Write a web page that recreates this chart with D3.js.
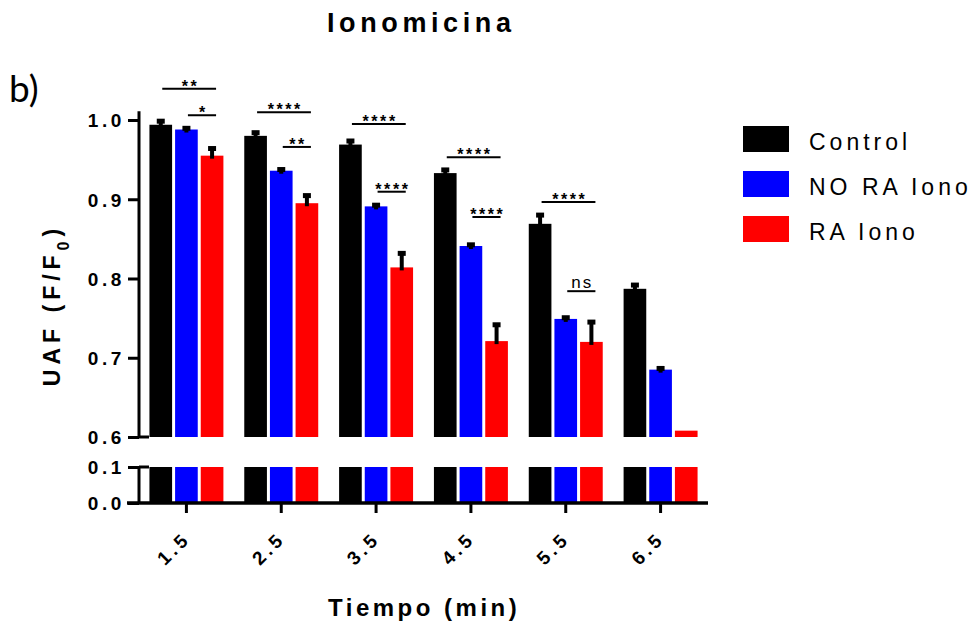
<!DOCTYPE html>
<html lang="es">
<head>
<meta charset="utf-8">
<title>Ionomicina</title>
<script src="https://cdn.jsdelivr.net/npm/d3@7"></script>
<style>
  html, body { margin: 0; padding: 0; background: #fff; }
  svg { display: block; }
  .t { font-family: 'Liberation Sans', Arial, sans-serif; fill: #000; }
  .bold { font-weight: 700; }
</style>
</head>
<body>
<script>
// data
var categories = ['1.5', '2.5', '3.5', '4.5', '5.5', '6.5'];
var seriesNames = ['Control', 'NO RA Iono', 'RA Iono'];
var controlMean = [0.994, 0.980, 0.969, 0.933, 0.869, 0.787];
var controlSem  = [0.0045, 0.004, 0.0045, 0.004, 0.011, 0.0047];
var noRaMean    = [0.988, 0.936, 0.891, 0.841, 0.749, 0.685];
var noRaSem     = [0.0015, 0.0015, 0.0015, 0.0015, 0.0015, 0.0015];
var raMean      = [0.955, 0.895, 0.814, 0.721, 0.720, 0.608];
var raSem       = [0.009, 0.0096, 0.0177, 0.0206, 0.025, 0];
var upperTicks  = [0.6, 0.7, 0.8, 0.9, 1.0];
var lowerTicks  = [0.0, 0.1];

// significance brackets (group, from series, to series, label, level)
var sigGroup = [0, 0, 1, 1, 2, 2, 3, 3, 4, 4];
var sigFrom  = [0, 1, 0, 1, 0, 1, 0, 1, 0, 1];
var sigTo    = [2, 2, 2, 2, 2, 2, 2, 2, 2, 2];
var sigLabel = ['**', '*', '****', '**', '****', '****', '****', '****', '****', 'ns'];
var sigLevel = [1.0395, 1.006, 1.0097, 0.966, 0.995, 0.9095, 0.953, 0.8776, 0.8965, 0.784];

var colors = ['#000000', '#0000ff', '#ff0000'];
var means = [controlMean, noRaMean, raMean];
var sems = [controlSem, noRaSem, raSem];

var w = 973, h = 621;
var axisX = 139;

var svg = d3.select('body').append('svg')
  .attr('width', w).attr('height', h);

var x = d3.scaleBand().domain(categories).range([axisX, 708])
  .paddingInner(0.22).paddingOuter(0.11);
var xs = d3.scaleBand().domain(seriesNames).range([0, x.bandwidth()])
  .paddingInner(0.117);
var yTop = d3.scaleLinear().domain([0.6, 1.0]).range([437, 120]);
var yLow = d3.scaleLinear().domain([0, 0.1]).range([503, 467]);

// flat table for the bars
var rows = [];
categories.forEach(function (c, i) {
  seriesNames.forEach(function (s, j) {
    rows.push({ cat: c, ser: s, j: j, v: means[j][i], e: sems[j][i] });
  });
});

function barX(d) { return x(d.cat) + xs(d.ser); }

// upper segment bars
svg.append('g').selectAll('rect').data(rows).enter().append('rect')
  .attr('x', barX)
  .attr('width', xs.bandwidth())
  .attr('y', function (d) { return yTop(Math.max(d.v, 0.6)); })
  .attr('height', function (d) { return yTop(0.6) - yTop(Math.max(d.v, 0.6)); })
  .attr('fill', function (d) { return colors[d.j]; });

// lower segment bars
svg.append('g').selectAll('rect').data(rows).enter().append('rect')
  .attr('x', barX)
  .attr('width', xs.bandwidth())
  .attr('y', function (d) { return yLow(Math.min(d.v, 0.1)); })
  .attr('height', function (d) { return yLow(0) - yLow(Math.min(d.v, 0.1)); })
  .attr('fill', function (d) { return colors[d.j]; });

// error bars (upward only, like the original)
var eb = svg.append('g').selectAll('g').data(rows.filter(function (d) { return d.e > 0; }))
  .enter().append('g');
eb.append('line')
  .attr('x1', function (d) { return barX(d) + xs.bandwidth() / 2; })
  .attr('x2', function (d) { return barX(d) + xs.bandwidth() / 2; })
  .attr('y1', function (d) { return yTop(d.v) + 3; })
  .attr('y2', function (d) { return yTop(d.v + d.e); })
  .attr('stroke', '#000').attr('stroke-width', 4);
eb.append('line')
  .attr('x1', function (d) { return barX(d) + xs.bandwidth() / 2 - 4; })
  .attr('x2', function (d) { return barX(d) + xs.bandwidth() / 2 + 4; })
  .attr('y1', function (d) { return yTop(d.v + d.e); })
  .attr('y2', function (d) { return yTop(d.v + d.e); })
  .attr('stroke', '#000').attr('stroke-width', 5);

// y axis ticks, upper and lower part
function styleY(g) {
  g.attr('font-size', null).attr('font-family', null);
  g.select('.domain').remove();
  g.selectAll('.tick line').attr('stroke', '#000').attr('stroke-width', 3);
  g.selectAll('.tick text')
    .attr('class', 't bold')
    .style('font-size', '19px')
    .style('letter-spacing', '3.6px')
    .attr('x', -14)
    .attr('dy', '0.36em');
}
var yAxTop = d3.axisLeft(yTop).tickValues(upperTicks)
  .tickFormat(d3.format('.1f')).tickSize(11).tickSizeOuter(0);
svg.append('g').attr('transform', 'translate(' + axisX + ',0)').call(yAxTop).call(styleY);
var yAxLow = d3.axisLeft(yLow).tickValues(lowerTicks)
  .tickFormat(d3.format('.1f')).tickSize(11).tickSizeOuter(0);
svg.append('g').attr('transform', 'translate(' + axisX + ',0)').call(yAxLow).call(styleY);

// axis lines with the break
svg.append('line').attr('x1', axisX).attr('x2', axisX)
  .attr('y1', yTop(1.011)).attr('y2', yTop(0.6))
  .attr('stroke', '#000').attr('stroke-width', 3);
svg.append('line').attr('x1', axisX).attr('x2', axisX)
  .attr('y1', yLow(0.1)).attr('y2', yLow(0))
  .attr('stroke', '#000').attr('stroke-width', 3);
svg.append('line').attr('x1', axisX).attr('x2', axisX + 10)
  .attr('y1', yTop(0.6)).attr('y2', yTop(0.6))
  .attr('stroke', '#000').attr('stroke-width', 3);
svg.append('line').attr('x1', axisX).attr('x2', axisX + 10)
  .attr('y1', yLow(0.1)).attr('y2', yLow(0.1))
  .attr('stroke', '#000').attr('stroke-width', 3);

// x axis
var xAx = d3.axisBottom(x).tickSize(10).tickSizeOuter(0);
var gx = svg.append('g').attr('transform', 'translate(0,' + yLow(0) + ')').call(xAx);
gx.attr('font-size', null).attr('font-family', null);
gx.select('.domain').remove();
gx.selectAll('.tick line').attr('stroke', '#000').attr('stroke-width', 3);
gx.selectAll('.tick text')
  .attr('class', 't bold')
  .style('font-size', '19px')
  .style('letter-spacing', '3.6px')
  .attr('text-anchor', 'end')
  .attr('y', 0).attr('dy', 0)
  .attr('transform', 'translate(5,37) rotate(-45)');
svg.append('line').attr('x1', axisX - 12).attr('x2', 708)
  .attr('y1', yLow(0)).attr('y2', yLow(0))
  .attr('stroke', '#000').attr('stroke-width', 3.5);

// significance brackets
var sig = svg.append('g');
sigGroup.forEach(function (gi, k) {
  var cat = categories[gi];
  var xa = x(cat) + xs(seriesNames[sigFrom[k]]) + xs.bandwidth() / 2 + 1.5;
  var xb = x(cat) + xs(seriesNames[sigTo[k]]) + xs.bandwidth() / 2 + 4;
  var yy = yTop(sigLevel[k]);
  sig.append('line').attr('x1', xa).attr('x2', xb).attr('y1', yy).attr('y2', yy)
    .attr('stroke', '#000').attr('stroke-width', 2);
  var isNs = sigLabel[k] === 'ns';
  var ls = isNs ? 2 : 2.6;
  sig.append('text').attr('class', 't' + (isNs ? '' : ' bold'))
    .attr('x', (xa + xb) / 2 + ls / 2)
    .attr('y', isNs ? yy - 3 : yy + 3)
    .attr('text-anchor', 'middle')
    .style('font-size', isNs ? '17px' : '16px')
    .style('letter-spacing', ls + 'px')
    .text(sigLabel[k]);
});

// titles
svg.append('text').attr('class', 't bold')
  .attr('x', 327).attr('y', 32)
  .style('font-size', '27px').style('letter-spacing', '4.6px')
  .text('Ionomicina');

svg.append('text').attr('class', 't bold')
  .attr('x', 328).attr('y', 616)
  .style('font-size', '24px').style('letter-spacing', '3.5px')
  .text('Tiempo (min)');

var yt = svg.append('text').attr('class', 't bold')
  .attr('transform', 'translate(60,305) rotate(-90)')
  .attr('text-anchor', 'middle')
  .style('font-size', '23px').style('letter-spacing', '5px');
yt.append('tspan').text('UAF (F/F');
yt.append('tspan').attr('baseline-shift', 'sub').style('font-size', '16px').text('0');
yt.append('tspan').text(')');

svg.append('text')
  .attr('x', 9).attr('y', 102)
  .style('font-family', 'Lato, sans-serif')
  .style('font-size', '37px')
  .text('b)');

// legend
var lg = svg.append('g').selectAll('g').data(seriesNames).enter().append('g')
  .attr('transform', function (d, i) { return 'translate(743,' + (126 + i * 45) + ')'; });
lg.append('rect').attr('width', 46).attr('height', 26)
  .attr('fill', function (d, i) { return colors[i]; });
lg.append('text').attr('class', 't')
  .attr('x', 66).attr('y', 24)
  .style('font-size', '23px').style('letter-spacing', '4px')
  .text(function (d) { return d; });
</script>
</body>
</html>
